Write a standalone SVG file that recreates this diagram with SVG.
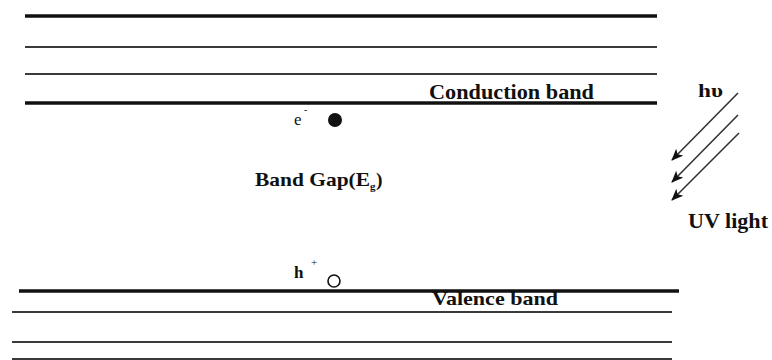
<svg xmlns="http://www.w3.org/2000/svg" width="772" height="360" viewBox="0 0 772 360">
<defs>
<style>
.thick{stroke:#111;stroke-width:3.5;fill:none}
.thin{stroke:#3a3a3a;stroke-width:1.8;fill:none}
.lbl{font-family:"Liberation Serif",serif;font-weight:bold;fill:#111}
.sym{font-family:"Liberation Serif",serif;fill:#111}
.ray{stroke:#333;stroke-width:1.6;fill:none;marker-end:url(#ah)}
</style>
<marker id="ah" viewBox="0 0 12 10" refX="11" refY="5" markerWidth="13" markerHeight="10" markerUnits="userSpaceOnUse" orient="auto">
<path d="M0,0 L12,5 L0,10 L3,5 Z" fill="#111"/>
</marker>
</defs>
<rect width="772" height="360" fill="#fff"/>
<g id="conduction-levels">
<line class="thick" x1="25" y1="16" x2="657" y2="16"/>
<line class="thin" x1="25" y1="47" x2="657" y2="47"/>
<line class="thin" x1="25" y1="74" x2="657" y2="74"/>
<line class="thick" x1="25" y1="103" x2="657" y2="103"/>
<text class="lbl" x="429" y="98.5" font-size="21" textLength="165" lengthAdjust="spacingAndGlyphs">Conduction band</text>
</g>
<g id="electron">
<text class="sym" x="294" y="125" font-size="17">e</text>
<text class="sym" x="304" y="113" font-size="10">-</text>
<circle cx="335" cy="120" r="7" fill="#111"/>
</g>
<g id="band-gap">
<text class="lbl" x="255" y="186" font-size="19.5" textLength="115" lengthAdjust="spacingAndGlyphs">Band Gap(E</text>
<text class="lbl" x="370" y="190" font-size="11">g</text>
<text class="lbl" x="376" y="186" font-size="19.5">)</text>
</g>
<g id="hole">
<text class="sym" x="294" y="278" font-size="17" font-weight="bold">h</text>
<text class="sym" x="311" y="266" font-size="11">+</text>
<circle cx="334" cy="281" r="6" fill="#fff" stroke="#111" stroke-width="1.6"/>
</g>
<g id="valence-levels">
<line class="thick" x1="19" y1="291" x2="679" y2="291"/>
<line class="thin" x1="12" y1="312" x2="672" y2="312"/>
<line class="thin" x1="12" y1="342" x2="672" y2="342"/>
<line class="thin" x1="12" y1="359" x2="672" y2="359"/>
<text class="lbl" x="432" y="305" font-size="19" textLength="126" lengthAdjust="spacingAndGlyphs">Valence band</text>
</g>
<g id="uv-light">
<text class="lbl" x="698" y="97" font-size="19" textLength="25" lengthAdjust="spacingAndGlyphs">hυ</text>
<text class="lbl" x="688" y="228" font-size="20" textLength="80" lengthAdjust="spacingAndGlyphs">UV light</text>
</g>
<g id="connectors">
<line class="ray" x1="738" y1="93" x2="672" y2="160"/>
<line class="ray" x1="738" y1="115" x2="672" y2="182"/>
<line class="ray" x1="739" y1="133" x2="672" y2="200"/>
</g>
</svg>
